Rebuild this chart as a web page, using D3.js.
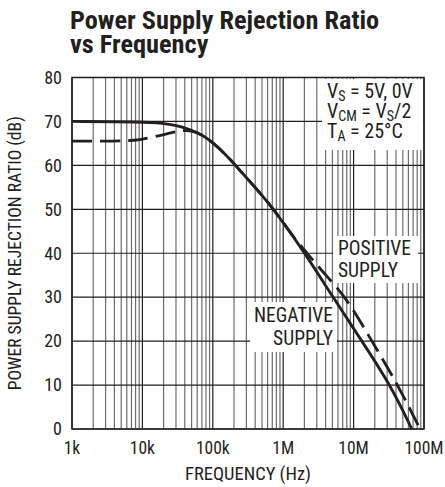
<!DOCTYPE html>
<html>
<head>
<meta charset="utf-8">
<script src="https://cdn.jsdelivr.net/npm/d3@7"></script>
<style>
  body { margin: 0; background: #fff; }
  svg { display: block; }
  text { font-family: "Roboto Condensed", Roboto, sans-serif; fill: #231f20; }
</style>
</head>
<body>
<script>
(function(){

    // frequency (Hz) and PSRR (dB)
    var negFreq = [1e3, 1e4, 2e4, 3e4, 4.7e4, 7e4, 1e5, 1.5e5, 2e5, 3e5, 5.5e5, 1e6, 2e6, 5.1e6, 1.31e7, 3.35e7, 6.7e7];
    var negPsrr = [70, 69.9, 69.6, 69.1, 68.2, 67.0, 65.2, 62.6, 60.4, 57.2, 52.5, 47.0, 40.2, 30, 20, 10, 0];

    var posFreq = [1e3, 3e3, 6e3, 9e3, 1.5e4, 2.5e4, 3.5e4, 5e4, 7e4, 1e5, 1.5e5, 2e5, 3e5, 5.5e5, 1e6, 1.5e6, 2.25e6, 4e6, 7.8e6, 1.82e7, 4.28e7, 8.77e7];
    var posPsrr = [65.5, 65.5, 65.6, 65.8, 66.5, 67.4, 67.9, 68.0, 67.0, 65.2, 62.6, 60.4, 57.2, 52.5, 47.1, 43.0, 39.8, 35.0, 30, 20, 10, 0];

    var yTicks = [0, 10, 20, 30, 40, 50, 60, 70, 80];
    var xTicks = [1e3, 1e4, 1e5, 1e6, 1e7, 1e8];
    var xTickLabels = ["1k", "10k", "100k", "1M", "10M", "100M"];

    // layout
    var width = 445, height = 487;
    var left = 72, right = 424, top = 77.5, bottom = 429;

    var svg = d3.select("body").append("svg")
        .attr("width", width)
        .attr("height", height);

    var x = d3.scaleLog().domain([1e3, 1e8]).range([left, right]);
    var y = d3.scaleLinear().domain([0, 80]).range([bottom, top]);

    // title, two lines
    svg.append("text")
        .attr("x", 70)
        .attr("y", 29)
        .attr("font-size", 26.3)
        .attr("font-weight", "bold")
        .text("Power Supply Rejection Ratio");
    svg.append("text")
        .attr("x", 70)
        .attr("y", 53)
        .attr("font-size", 26.3)
        .attr("font-weight", "bold")
        .text("vs Frequency");

    // vertical grid: 2..9 within each decade
    var minor = [];
    for (var d = 3; d < 8; d++){
        for (var m = 2; m <= 9; m++){
            minor.push(m * Math.pow(10, d));
        }
    }
    svg.append("g").selectAll("line")
        .data(minor)
        .enter()
        .append("line")
        .attr("x1", function(v){ return x(v); })
        .attr("x2", function(v){ return x(v); })
        .attr("y1", top)
        .attr("y2", bottom)
        .attr("stroke", "#6d6d6d")
        .attr("stroke-width", 1.2);

    svg.append("g").selectAll("line")
        .data(xTicks)
        .enter()
        .append("line")
        .attr("x1", function(v){ return x(v); })
        .attr("x2", function(v){ return x(v); })
        .attr("y1", top)
        .attr("y2", bottom)
        .attr("stroke", "#231f20")
        .attr("stroke-width", 1.2);

    // horizontal grid
    svg.append("g").selectAll("line")
        .data(yTicks)
        .enter()
        .append("line")
        .attr("x1", left)
        .attr("x2", right)
        .attr("y1", function(v){ return y(v); })
        .attr("y2", function(v){ return y(v); })
        .attr("stroke", "#231f20")
        .attr("stroke-width", 1.2);

    // frame
    svg.append("rect")
        .attr("x", left)
        .attr("y", top)
        .attr("width", right - left)
        .attr("height", bottom - top)
        .attr("fill", "none")
        .attr("stroke", "#231f20")
        .attr("stroke-width", 1.5);

    // white boxes behind the notes
    var boxes = [
        [322, 79, 101, 71],
        [333, 236, 85, 47],
        [250, 302, 87, 50]
    ];
    svg.append("g").selectAll("rect")
        .data(boxes)
        .enter()
        .append("rect")
        .attr("x", function(b){ return b[0]; })
        .attr("y", function(b){ return b[1]; })
        .attr("width", function(b){ return b[2]; })
        .attr("height", function(b){ return b[3]; })
        .attr("fill", "#fff");

    // curves
    var line = d3.line()
        .x(function(d){ return x(d[0]); })
        .y(function(d){ return y(d[1]); })
        .curve(d3.curveBasis);

    svg.append("path")
        .datum(d3.zip(negFreq, negPsrr))
        .attr("d", line)
        .attr("fill", "none")
        .attr("stroke", "#231f20")
        .attr("stroke-width", 2.8);

    svg.append("path")
        .datum(d3.zip(posFreq, posPsrr))
        .attr("d", line)
        .attr("fill", "none")
        .attr("stroke", "#231f20")
        .attr("stroke-width", 2.8)
        .attr("stroke-dasharray", "20,8");

    // y tick labels
    svg.append("g").selectAll("text")
        .data(yTicks)
        .enter()
        .append("text")
        .attr("x", 62)
        .attr("y", function(v){ return y(v) + 6.3; })
        .attr("text-anchor", "end")
        .attr("font-size", 18)
        .text(function(v){ return v; });

    // x tick labels
    svg.append("g").selectAll("text")
        .data(xTicks)
        .enter()
        .append("text")
        .attr("x", function(v){ return x(v); })
        .attr("y", 454)
        .attr("text-anchor", "middle")
        .attr("font-size", 17.5)
        .text(function(v, i){ return xTickLabels[i]; });

    // axis titles
    svg.append("text")
        .attr("x", 248)
        .attr("y", 480)
        .attr("text-anchor", "middle")
        .attr("font-size", 18.5)
        .text("FREQUENCY (Hz)");

    svg.append("text")
        .attr("transform", "translate(21," + ((top + bottom) / 2) + ") rotate(-90)")
        .attr("text-anchor", "middle")
        .attr("font-size", 17.6)
        .text("POWER SUPPLY REJECTION RATIO (dB)");

    // conditions note
    var note = svg.append("g").attr("font-size", 20);
    var n1 = note.append("text").attr("x", 327).attr("y", 98);
    n1.append("tspan").text("V");
    n1.append("tspan").attr("font-size", 14).attr("dy", 3).text("S");
    n1.append("tspan").attr("dy", -3).text(" = 5V, 0V");
    var n2 = note.append("text").attr("x", 327).attr("y", 118);
    n2.append("tspan").text("V");
    n2.append("tspan").attr("font-size", 14).attr("dy", 3).text("CM");
    n2.append("tspan").attr("dy", -3).text(" = V");
    n2.append("tspan").attr("font-size", 14).attr("dy", 3).text("S");
    n2.append("tspan").attr("dy", -3).text("/2");
    var n3 = note.append("text").attr("x", 327).attr("y", 138);
    n3.append("tspan").text("T");
    n3.append("tspan").attr("font-size", 14).attr("dy", 3).text("A");
    n3.append("tspan").attr("dy", -3).text(" = 25\u00B0C");

    // curve labels
    var pos = svg.append("text").attr("font-size", 19.5);
    pos.append("tspan").attr("x", 338).attr("y", 255).text("POSITIVE");
    pos.append("tspan").attr("x", 338).attr("y", 277).text("SUPPLY");

    var neg = svg.append("text").attr("font-size", 19.5).attr("text-anchor", "end");
    neg.append("tspan").attr("x", 333).attr("y", 322).text("NEGATIVE");
    neg.append("tspan").attr("x", 333).attr("y", 345).text("SUPPLY");

})();
</script>
</body>
</html>
